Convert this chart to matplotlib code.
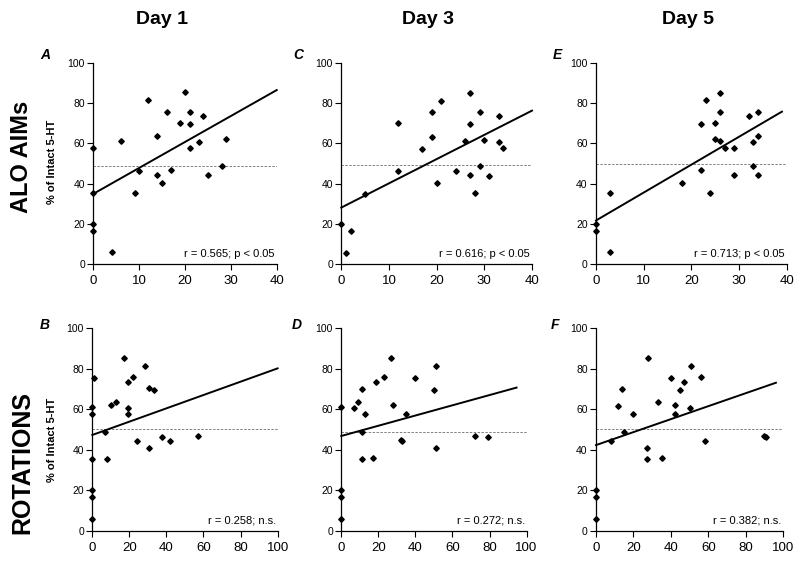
import matplotlib
matplotlib.use("Agg")
import matplotlib.pyplot as plt

plt.rcParams['font.family'] = ['Liberation Sans', 'DejaVu Sans']

# AIMs scores (days 1, 3, 5) vs % of intact 5-HT
aims_d1_x = [0, 0, 0, 0, 4, 6, 9, 10, 12, 14, 14, 15, 16, 17, 19, 20, 21, 21, 21, 23, 24, 25, 28, 29]
aims_d1_y = [57.5, 35.2, 20, 16.7, 6, 61.3, 35.5, 46.4, 81.5, 63.6, 44.5, 40.5, 75.7, 46.6, 70.2, 85.3,
             75.5, 69.8, 57.7, 60.5, 73.6, 44.1, 48.6, 62.3]
aims_d3_x = [0, 1, 2, 5, 12, 12, 17, 19, 19, 20, 21, 24, 26, 27, 27, 27, 28, 29, 29, 30, 31, 33, 33, 34]
aims_d3_y = [19.9, 5.8, 16.4, 35, 70.2, 46.2, 57.2, 75.7, 63.3, 40.3, 81.1, 46.4, 61.2, 85, 69.4, 44.2,
             35.4, 75.5, 48.5, 61.8, 43.9, 73.4, 60.4, 57.6]
aims_d5_x = [0, 0, 3, 3, 18, 22, 22, 23, 24, 25, 25, 26, 26, 26, 27, 29, 29, 32, 33, 33, 34, 34, 34]
aims_d5_y = [20, 16.7, 35.2, 6, 40.5, 69.8, 46.6, 81.7, 35.5, 70.2, 62.1, 85.1, 75.7, 61.3, 57.9, 57.5,
             44.1, 73.6, 60.5, 48.6, 75.5, 63.5, 44.5]

# rotations (days 1, 3, 5) vs % of intact 5-HT
rot_d1_x = [0, 0, 0, 0, 0, 0, 1, 7, 8, 10, 13, 17, 19, 19, 19, 22, 24, 28.5, 30.5, 30.5, 33.5, 37.5, 42, 57]
rot_d1_y = [61.3, 57.5, 35.6, 20.1, 16.5, 5.8, 75.6, 48.6, 35.4, 62.3, 63.6, 85.3, 73.5, 60.5, 57.8,
            75.9, 44.2, 81.5, 70.5, 40.7, 69.7, 46.5, 44.3, 46.6]
rot_d3_x = [0, 0, 0, 0, 7, 9, 11, 11, 11, 13, 17, 19, 23, 27, 28, 32, 33, 35, 40, 50, 51, 51, 72, 79]
rot_d3_y = [61.3, 20.1, 16.8, 5.9, 60.5, 63.6, 70.2, 48.6, 35.4, 57.8, 35.7, 73.6, 75.8, 85.2, 62.3,
            44.6, 44.2, 57.5, 75.5, 69.7, 81.5, 40.7, 46.8, 46.3]
rot_d5_x = [0, 0, 0, 8, 12, 14, 15, 20, 27, 27, 28, 33, 35, 40, 42, 42, 45, 47, 50, 51, 56, 58, 90, 91]
rot_d5_y = [20.1, 16.8, 5.9, 44.5, 61.4, 70.2, 48.6, 57.5, 40.7, 35.3, 85.2, 63.6, 35.7, 75.3, 62.1,
            57.7, 69.7, 73.5, 60.5, 81.5, 75.8, 44.3, 46.8, 46.5]

# regression lines: (x start, y start, x end, y end)
fit_lines = [(0, 34.9, 40, 86.4), (0, 28.1, 40, 76.2), (0, 21.7, 39, 75.7),
             (0, 47.3, 100, 80.2), (0, 46.8, 94.6, 70.7), (0, 42.3, 96.1, 73.1)]
ref_levels = [48.5, 49.3, 49.8, 50.1, 48.6, 50.2]
stats = ["r = 0.565; p < 0.05", "r = 0.616; p < 0.05", "r = 0.713; p < 0.05",
         "r = 0.258; n.s.", "r = 0.272; n.s.", "r = 0.382; n.s."]
letters = ["A", "C", "E", "B", "D", "F"]
days = ["Day 1", "Day 3", "Day 5"]
rows = ["ALO AIMs", "ROTATIONS"]

xs = [aims_d1_x, aims_d3_x, aims_d5_x, rot_d1_x, rot_d3_x, rot_d5_x]
ys = [aims_d1_y, aims_d3_y, aims_d5_y, rot_d1_y, rot_d3_y, rot_d5_y]

fig = plt.figure(figsize=(8, 5.67), dpi=100)

boxes = [(0.1166, 0.534, 0.2293, 0.3555), (0.4266, 0.534, 0.2384, 0.3555), (0.745, 0.534, 0.2384, 0.3555),
         (0.1154, 0.064, 0.2316, 0.357), (0.4266, 0.064, 0.2316, 0.357), (0.745, 0.064, 0.234, 0.357)]
letter_pos = [(45, 55), (298, 55), (557, 55), (45, 325), (297, 325), (555, 325)]

for i in range(6):
    ax = fig.add_axes(boxes[i])
    top = i < 3
    ax.plot(xs[i], ys[i], 'D', color='black', ms=2.8, zorder=3, clip_on=False)
    x0, y0, x1, y1 = fit_lines[i]
    ax.plot([x0, x1], [y0, y1], color='black', lw=1.4, zorder=2, clip_on=False)
    ax.axhline(ref_levels[i], color='#808080', lw=0.7, ls=(0, (2.5, 1.5)), zorder=1)
    ax.set_ylim(0, 100)
    ax.set_yticks(range(0, 101, 20))
    if top:
        ax.set_xlim(0, 40)
        ax.set_xticks(range(0, 41, 10))
    else:
        ax.set_xlim(0, 100)
        ax.set_xticks(range(0, 101, 20))
    for s in ['top', 'right']:
        ax.spines[s].set_visible(False)
    for s in ['left', 'bottom']:
        ax.spines[s].set_linewidth(0.9)
    ax.tick_params(axis='y', direction='out', length=4, width=0.8, labelsize=7.5, pad=2)
    ax.tick_params(axis='x', direction='out', length=4, width=0.8, labelsize=9.5, pad=4)
    ax.text(0.99, 5, stats[i], transform=ax.get_yaxis_transform(), ha='right', va='center', fontsize=8)
    lx, ly = letter_pos[i]
    fig.text(lx / 800, 1 - ly / 567, letters[i], fontsize=10, fontweight='bold', style='italic',
             ha='center', va='center')

for j, d in enumerate(days):
    fig.text([162, 428, 688][j] / 800, 1 - 20 / 567, d, fontsize=14, fontweight='bold', ha='center', va='center')

fig.text(22 / 800, 1 - 157 / 567, rows[0], fontsize=17, fontweight='bold', rotation=90, ha='center', va='center')
fig.text(22 / 800, 1 - 462 / 567, rows[1], fontsize=18, fontweight='bold', rotation=90, ha='center', va='center')
fig.text(52 / 800, 1 - 162 / 567, "% of Intact 5-HT", fontsize=8, fontweight='bold', rotation=90,
         ha='center', va='center')
fig.text(52 / 800, 1 - 440 / 567, "% of Intact 5-HT", fontsize=8, fontweight='bold', rotation=90,
         ha='center', va='center')

fig.savefig("out.png", dpi=100)
